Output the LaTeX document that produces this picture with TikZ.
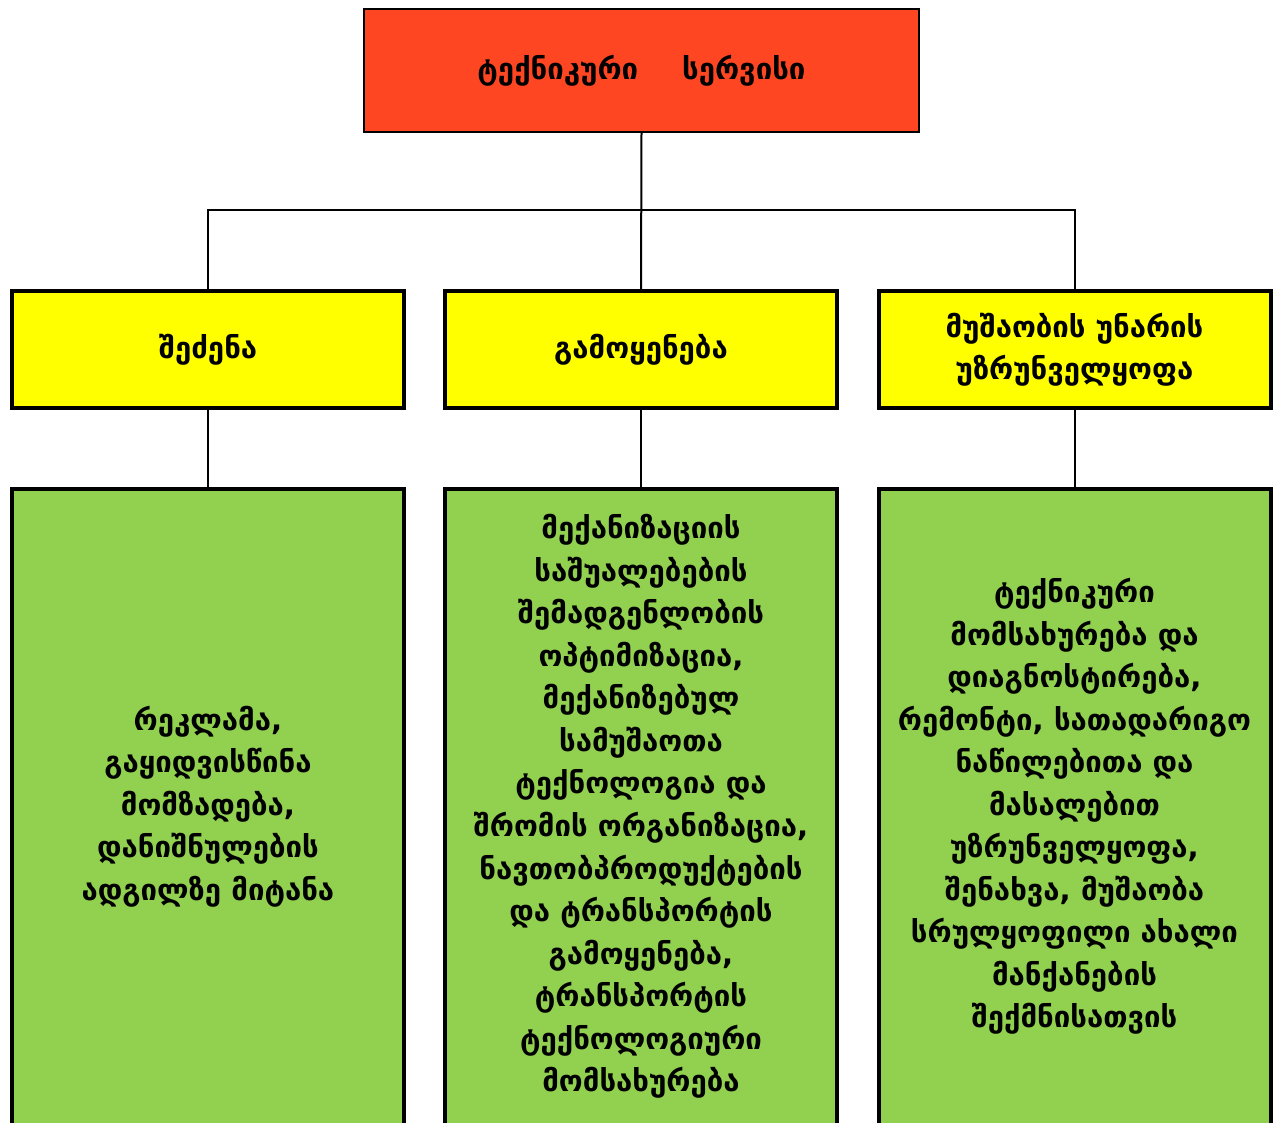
\documentclass[tikz,border=0pt]{standalone}
\usepackage{fontspec}
\setmainfont{DejaVu Sans}
\definecolor{topred}{HTML}{FF4622}
\definecolor{midyellow}{HTML}{FFFF00}
\definecolor{lowgreen}{HTML}{92D050}
\begin{document}
\begin{tikzpicture}[x=0.75pt,y=-0.75pt,
  txt/.style={font=\bfseries\fontsize{22}{31.9}\selectfont, align=center, text=black},
  topbox/.style={txt, draw=black, line width=1.5pt, fill=topred, minimum width=416pt, minimum height=92pt, inner sep=0pt},
  midbox/.style={txt, draw=black, line width=3pt, fill=midyellow, minimum width=294pt, minimum height=88pt, inner sep=0pt},
  lowbox/.style={txt, draw=black, line width=3pt, fill=lowgreen, minimum width=294pt, minimum height=477pt, inner sep=0pt},
  conn/.style={draw=black, line width=1.5pt}]
\useasboundingbox (0,0) rectangle (1282,1122);
\fill[white] (0,0) rectangle (1282,1122);
\node[topbox] (top) at (641.5,70.5) {ტექნიკური\hspace{1.5em}სერვისი};
\node[midbox] (y1) at (208,349.5) {შეძენა};
\node[midbox] (y2) at (641,349.5) {გამოყენება};
\node[midbox] (y3) at (1074.5,349.5) {მუშაობის უნარის\\უზრუნველყოფა};
\node[lowbox] (g1) at (208,806.5) {რეკლამა,\\გაყიდვისწინა\\მომზადება,\\დანიშნულების\\ადგილზე მიტანა};
\node[lowbox] (g2) at (641,806.5) {მექანიზაციის\\საშუალებების\\შემადგენლობის\\ოპტიმიზაცია,\\მექანიზებულ\\სამუშაოთა\\ტექნოლოგია და\\შრომის ორგანიზაცია,\\ნავთობპროდუქტების\\და ტრანსპორტის\\გამოყენება,\\ტრანსპორტის\\ტექნოლოგიური\\მომსახურება};
\node[lowbox] (g3) at (1074.5,806.5) {ტექნიკური\\მომსახურება და\\დიაგნოსტირება,\\რემონტი, სათადარიგო\\ნაწილებითა და\\მასალებით\\უზრუნველყოფა,\\შენახვა, მუშაობა\\სრულყოფილი ახალი\\მანქანების\\შექმნისათვის};
\coordinate (bus) at (641,210);
\draw[conn] (top.south) -- (y2.north);
\draw[conn] (y1.north) |- (bus) -| (y3.north);
\draw[conn] (y1.south) -- (g1.north);
\draw[conn] (y2.south) -- (g2.north);
\draw[conn] (y3.south) -- (g3.north);
\end{tikzpicture}
\end{document}
